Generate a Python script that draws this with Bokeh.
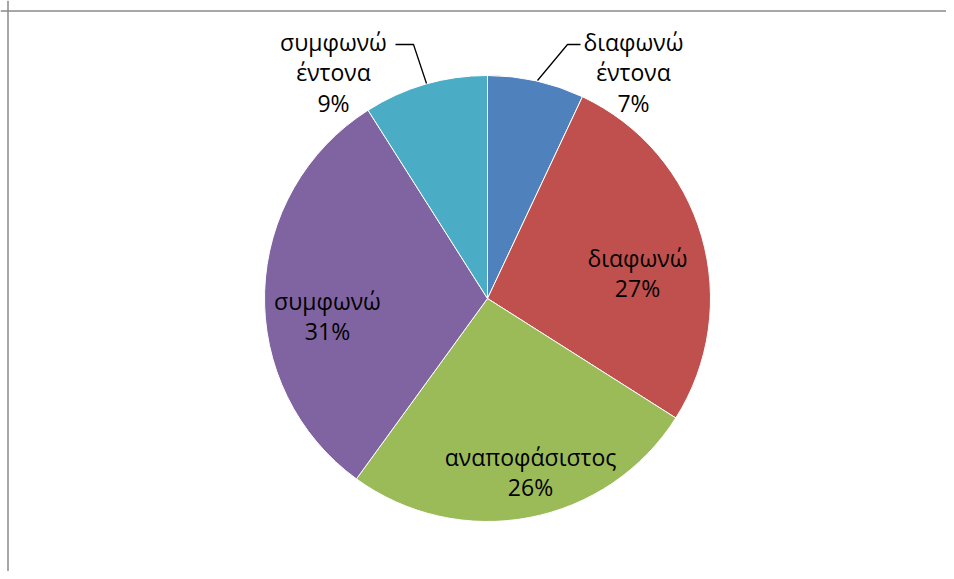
import math
from bokeh.plotting import figure
from bokeh.models import ColumnDataSource, Range1d, Span
from bokeh.core.properties import value
from bokeh.embed import file_html
from bokeh.resources import INLINE

# ---- data ----
categories = ["διαφωνώ έντονα", "διαφωνώ", "αναποφάσιστος", "συμφωνώ", "συμφωνώ έντονα"]
label_lines = [["διαφωνώ", "έντονα"], ["διαφωνώ"], ["αναποφάσιστος"], ["συμφωνώ"], ["συμφωνώ", "έντονα"]]
percents = [7, 27, 26, 31, 9]
colors = ["#4F81BD", "#C0504D", "#9BBB59", "#8064A2", "#4BACC6"]

# ---- layout (image pixel coordinates) ----
W, H = 946, 571
CX, CY, R = 487, 298, 223
label_pos = [(633, 41), (637, 257), (530, 456), (327, 300), (333, 41)]
LINE_H = 30.5
leaders = {0: [(537, 80), (567, 44), (580, 44)],
           4: [(426, 83), (413, 44), (395, 44)]}


def py(y):
    return H - y


p = figure(width=W, height=H, x_range=Range1d(0, W), y_range=Range1d(0, H),
           output_backend="svg", toolbar_location=None, min_border=0,
           outline_line_color=None, background_fill_color="white")
p.xaxis.visible = False
p.yaxis.visible = False
p.xgrid.visible = False
p.ygrid.visible = False

# chart-area border (only left and top edges fall inside the view)
p.add_layout(Span(location=7.5, dimension="height", line_color="#8a8a8a", line_width=1.5))
p.add_layout(Span(location=py(10.5), dimension="width", line_color="#8a8a8a", line_width=1.5))

total = sum(percents)
starts, ends = [], []
cum = 0
for v in percents:
    starts.append(math.pi / 2 - 2 * math.pi * cum / total)
    cum += v
    ends.append(math.pi / 2 - 2 * math.pi * cum / total)

src = ColumnDataSource(dict(x=[CX] * len(percents), y=[py(CY)] * len(percents),
                            start=starts, end=ends, color=colors, cat=categories))
p.wedge(x="x", y="y", radius=R, start_angle="start", end_angle="end",
        direction="clock", fill_color="color", line_color="white", line_width=1,
        source=src)

for i, pts in leaders.items():
    p.line([q[0] for q in pts], [py(q[1]) for q in pts], line_color="black", line_width=1.3)

tx, ty, tt = [], [], []
for i, (lines, pct) in enumerate(zip(label_lines, percents)):
    x0, y0 = label_pos[i]
    for j, s in enumerate(lines + [f"{pct}%"]):
        tx.append(x0)
        ty.append(py(y0 + j * LINE_H))
        tt.append(s)
p.text(x=tx, y=ty, text=tt, text_align="center", text_baseline="middle",
       text_font=value("Open Sans"), text_font_size="23px", text_color="black")

open("out.html", "w").write(file_html(p, INLINE))
